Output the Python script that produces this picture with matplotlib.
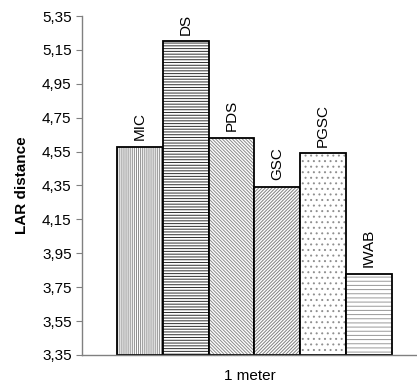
import numpy as np
import matplotlib.pyplot as plt
from matplotlib.ticker import FuncFormatter

plt.rcParams['font.family'] = ['Liberation Sans', 'DejaVu Sans']
plt.rcParams['hatch.linewidth'] = 0.7

# LAR distance per method at 1 meter
methods = ['MIC', 'DS', 'PDS', 'GSC', 'PGSC', 'IWAB']
lar = [4.58, 5.20, 4.63, 4.34, 4.54, 3.83]
hatches = ['||||||||', '------', '\\\\\\\\\\\\\\\\\\\\', '//////////', '...', '----']
hatch_cols = ['#8a8a8a', '#303030', '#8a8a8a', '#808080', '#909090', '#999999']

fig = plt.figure(figsize=(4.17, 3.88), dpi=100)
ax = fig.add_axes([82 / 417, 1 - 355 / 388, 335 / 417, 339 / 388])

x = np.arange(len(methods))
for xi, val, h, hc in zip(x, lar, hatches, hatch_cols):
    ax.bar(xi, val - 3.35, bottom=3.35, width=1.0, color='white',
           edgecolor=hc, hatch=h, linewidth=0)
    ax.bar(xi, val - 3.35, bottom=3.35, width=1.0, fill=False,
           edgecolor='black', linewidth=1.3)
    ax.text(xi, val + 0.04, methods[xi], rotation=90, ha='center',
            va='bottom', fontsize=11)

ax.set_xlim(-1.264, 6.046)
ax.set_ylim(3.35, 5.35)
ax.set_yticks(np.arange(3.35, 5.36, 0.2))
ax.yaxis.set_major_formatter(FuncFormatter(lambda v, p: f'{v:.2f}'.replace('.', ',')))
ax.set_xticks([])
ax.tick_params(axis='y', labelsize=11, length=4, color='#808080')

for s in ['top', 'right']:
    ax.spines[s].set_visible(False)
for s in ['left', 'bottom']:
    ax.spines[s].set_color('#808080')
    ax.spines[s].set_linewidth(1.0)

ax.set_ylabel('LAR distance', fontsize=11, fontweight='bold', labelpad=9)
ax.set_xlabel('1 meter', fontsize=11, labelpad=10)

fig.savefig('out.png', dpi=100)
